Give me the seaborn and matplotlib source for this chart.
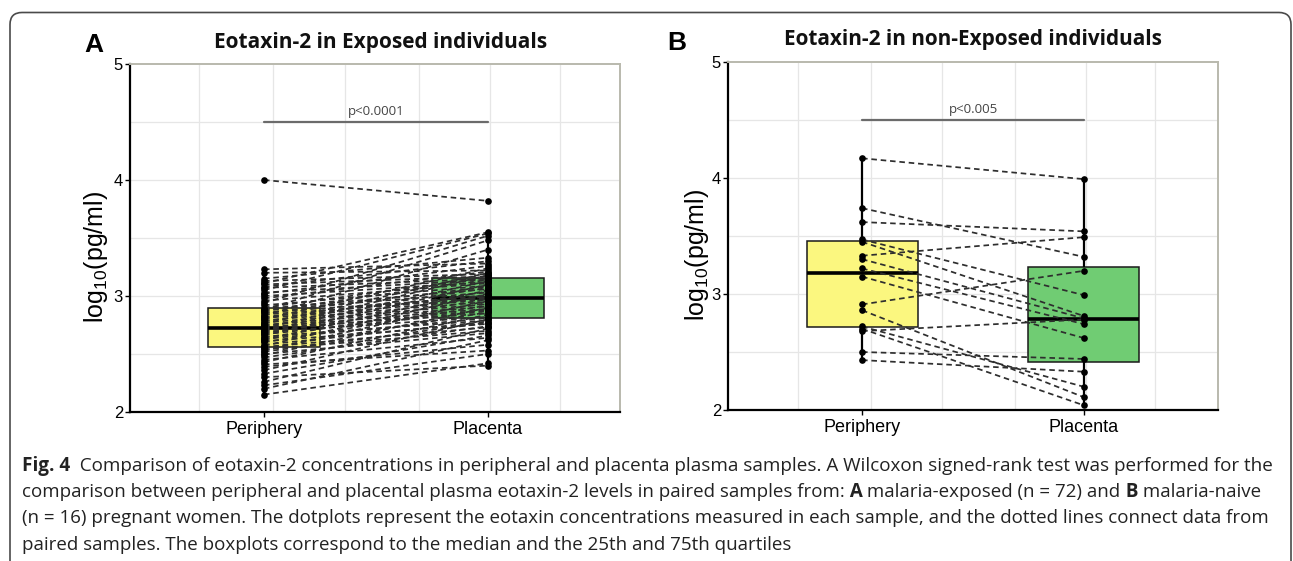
import numpy as np
import pandas as pd
import matplotlib
matplotlib.use("Agg")
import matplotlib.pyplot as plt
import seaborn as sns
from matplotlib.patches import FancyBboxPatch
from matplotlib.transforms import IdentityTransform

# ---------------- data ----------------
categories = ["Periphery", "Placenta"]
box_colors = ["#FBF77F", "#70CC73"]

# Panel A: malaria-exposed (n = 72), log10(pg/ml), paired by position
exposed_periphery = [
    2.15, 2.20, 2.23, 2.26, 2.30, 2.33, 2.36, 2.39, 2.41, 2.43,
    2.45, 2.47, 2.49, 2.50, 2.52, 2.53, 2.54, 2.55, 2.56, 2.57,
    2.58, 2.60, 2.61, 2.62, 2.63, 2.64, 2.65, 2.66, 2.67, 2.68,
    2.69, 2.70, 2.70, 2.71, 2.72, 2.72, 2.73, 2.74, 2.75, 2.76,
    2.77, 2.78, 2.79, 2.80, 2.81, 2.82, 2.83, 2.84, 2.85, 2.86,
    2.87, 2.88, 2.88, 2.89, 2.90, 2.92, 2.94, 2.96, 2.98, 3.00,
    3.02, 3.03, 3.05, 3.07, 3.08, 3.10, 3.11, 3.13, 3.15, 3.20,
    3.23, 4.00,
]
exposed_placenta = [
    2.42, 2.62, 2.50, 2.72, 2.40, 2.66, 2.80, 2.58, 2.53, 2.84,
    2.64, 2.74, 2.90, 2.68, 2.77, 2.96, 2.70, 2.86, 2.73, 3.02,
    2.78, 2.92, 2.76, 3.05, 2.81, 2.94, 2.79, 3.10, 2.87, 2.97,
    2.82, 3.13, 2.88, 3.00, 2.85, 3.18, 2.89, 3.04, 2.91, 3.20,
    2.93, 3.07, 2.95, 3.24, 2.97, 3.01, 3.40, 2.98, 3.08, 2.99,
    3.14, 3.03, 3.48, 3.06, 3.16, 3.09, 3.52, 3.11, 3.21, 3.12,
    3.26, 3.14, 3.54, 3.15, 3.30, 3.17, 3.55, 3.19, 3.33, 3.22,
    3.28, 3.82,
]

# Panel B: malaria-naive (n = 16)
naive_periphery = [4.17, 3.74, 3.62, 3.47, 3.45, 3.33, 3.30, 3.22,
                   3.15, 2.91, 2.86, 2.72, 2.70, 2.68, 2.50, 2.43]
naive_placenta = [3.99, 3.32, 3.54, 2.99, 2.81, 3.49, 2.79, 2.74,
                  2.62, 3.20, 2.11, 2.20, 2.04, 2.78, 2.44, 2.33]

titles = ["Eotaxin-2 in Exposed individuals", "Eotaxin-2 in non-Exposed individuals"]
panel_letters = ["A", "B"]
p_labels = ["p<0.0001", "p<0.005"]
y_ticks = [2, 3, 4, 5]
y_minor_grid = [2.5, 3.5, 4.5]
x_grid = [-0.29, 0.04, 0.36, 0.69, 1.01, 1.32]
y_label = r"$\mathregular{log_{10}(pg/ml)}$"

caption_lines = [
    [("Fig. 4", True),
     ("  Comparison of eotaxin-2 concentrations in peripheral and placenta plasma samples. "
      "A Wilcoxon signed-rank test was performed for the", False)],
    [("comparison between peripheral and placental plasma eotaxin-2 levels in paired samples from:", False),
     (" A", True), (" malaria-exposed (n = 72) and", False), (" B", True), (" malaria-naive", False)],
    [("(n = 16) pregnant women. The dotplots represent the eotaxin concentrations measured in each "
      "sample, and the dotted lines connect data from", False)],
    [("paired samples. The boxplots correspond to the median and the 25th and 75th quartiles", False)],
]

# ---------------- style ----------------
sns.set_theme(style="white")
plt.rcParams["font.family"] = ["Liberation Sans", "DejaVu Sans"]

W, H = 1293, 561
fig = plt.figure(figsize=(W / 100, H / 100), dpi=100)
fig.patch.set_facecolor("white")


def axes_rect(left, right, top, bottom):
    return [left / W, 1 - bottom / H, (right - left) / W, (bottom - top) / H]


axA = fig.add_axes(axes_rect(130, 620, 64, 412))
axB = fig.add_axes(axes_rect(728, 1218, 62, 410))


def draw_panel(ax, per, pla, p_label, xlim, ylab_x):
    n = len(per)
    df = pd.DataFrame({
        "group": [categories[0]] * n + [categories[1]] * n,
        "value": list(per) + list(pla),
    })
    for gx in x_grid:
        ax.axvline(gx, color="#e6e6e6", lw=0.9, zorder=0)
    for gy in y_ticks[1:-1] + y_minor_grid:
        ax.axhline(gy, color="#e6e6e6", lw=0.9, zorder=0)

    sns.boxplot(data=df, x="group", y="value", hue="group", order=categories,
                hue_order=categories, palette=box_colors, saturation=1, width=0.5,
                showfliers=False, showcaps=False, linecolor="#1a1a1a",
                linewidth=1.1, legend=False, ax=ax,
                whiskerprops=dict(linewidth=1.6, color="black"),
                medianprops=dict(linewidth=2.6, color="black"),
                boxprops=dict(zorder=2))
    for a, b in zip(per, pla):
        ax.plot([0, 1], [a, b], ls=(0, (3.2, 2.2)), color="#2e2e2e", lw=1.25, zorder=3)
    sns.stripplot(data=df, x="group", y="value", order=categories, jitter=False,
                  color="black", size=4.8, ax=ax, zorder=4)

    ax.plot([0, 1], [4.5, 4.5], color="#6b6b6b", lw=1.6, zorder=3)
    ax.text(0.5, 4.535, p_label, ha="center", va="bottom", fontsize=9.5,
            color="#444444", family="Open Sans", zorder=5)

    ax.set_xlim(*xlim)
    ax.set_ylim(2, 5)
    ax.set_yticks(y_ticks)
    ax.set_yticklabels([str(t) for t in y_ticks])
    ax.set_xlabel("")
    ax.set_ylabel(y_label, fontsize=18, family="Liberation Sans", color="black")
    ax.yaxis.set_label_coords(ylab_x, 0.445)
    ax.tick_params(axis="y", labelsize=12, length=3.5, width=1, color="black", pad=1.5,
                   left=True)
    ax.tick_params(axis="x", labelsize=13, length=3.5, width=1, color="black", pad=3,
                   bottom=True)
    for lab in ax.get_xticklabels() + ax.get_yticklabels():
        lab.set_family("Liberation Sans")
        lab.set_color("black")
    for side in ["left", "bottom"]:
        ax.spines[side].set_color("black")
        ax.spines[side].set_linewidth(1.6)
    for side in ["top", "right"]:
        ax.spines[side].set_color("#b9b9ad")
        ax.spines[side].set_linewidth(1.4)
    ax.grid(False)


draw_panel(axA, exposed_periphery, exposed_placenta, p_labels[0], (-0.598, 1.589), -0.04)
draw_panel(axB, naive_periphery, naive_placenta, p_labels[1], (-0.604, 1.604), -0.035)

renderer = fig.canvas.get_renderer()


def fit_width(t, target):
    bb = t.get_window_extent(renderer)
    t.set_fontsize(t.get_fontsize() * target / bb.width)


# titles
tA = fig.text(381 / W, 1 - 48 / H, titles[0], ha="center", va="baseline",
              fontsize=14, fontweight="bold", family="Open Sans", color="#111111")
tB = fig.text(973 / W, 1 - 45 / H, titles[1], ha="center", va="baseline",
              fontsize=14, fontweight="bold", family="Open Sans", color="#111111")
fit_width(tA, 335)
fit_width(tB, 380)

# panel letters
fig.text(94 / W, 1 - 52 / H, panel_letters[0], ha="center", va="baseline",
         fontsize=19, fontweight="bold", family="Liberation Sans", color="black")
fig.text(677 / W, 1 - 50 / H, panel_letters[1], ha="center", va="baseline",
         fontsize=19, fontweight="bold", family="Liberation Sans", color="black")

# caption frame
frame = FancyBboxPatch((10, -40), 1281, H - 12.5 + 40,
                       boxstyle="round,pad=0,rounding_size=12",
                       transform=IdentityTransform(), facecolor="none",
                       edgecolor="#4a4a4a", lw=1.2, clip_on=False)
fig.add_artist(frame)

CAP_FONT = "Open Sans"


def draw_caption_line(segs, x0, y_base, size):
    arts = []
    x = x0
    for s, bold in segs:
        t = fig.text(x / W, 1 - y_base / H, s, fontsize=size,
                     fontweight="bold" if bold else "normal", family=CAP_FONT,
                     ha="left", va="baseline", color="#222222")
        bb = t.get_window_extent(renderer)
        x = bb.x1
        arts.append(t)
    return arts, x - x0


baselines = [471, 497, 523, 550]
line_ends = [1266, 1254, 1268, 787]
for segs, yb, xe in zip(caption_lines, baselines, line_ends):
    arts, w0 = draw_caption_line(segs, 22, yb, 12)
    for a in arts:
        a.remove()
    draw_caption_line(segs, 22, yb, 12 * (xe - 22) / w0)

fig.savefig("out.png", dpi=100, facecolor="white")
